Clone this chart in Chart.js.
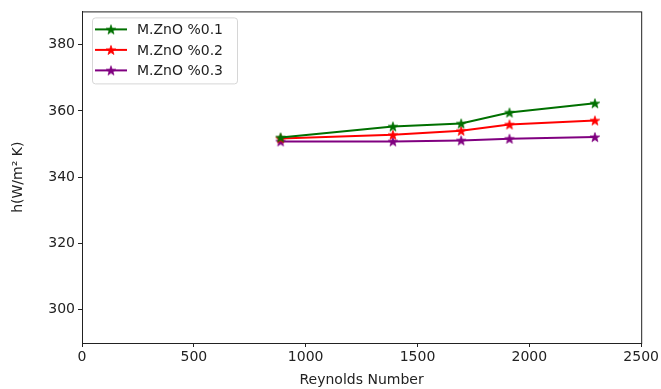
<!DOCTYPE html>
<html>
<head>
<meta charset="utf-8">
<script src="https://cdn.jsdelivr.net/npm/chart.js@4/dist/chart.umd.min.js"></script>
<style>
  html, body { margin: 0; padding: 0; background: #fff; }
  #wrap { width: 661px; height: 389px; }
</style>
</head>
<body>
<div id="wrap"><canvas id="c"></canvas></div>
<script>
// Reynolds number vs heat transfer coefficient, three ZnO concentrations.
var reynolds = [888, 1390, 1695, 1911, 2293];
var zno01 = [352.0, 355.3, 356.2, 359.5, 362.3];
var zno02 = [351.7, 352.8, 354.0, 355.9, 357.1];
var zno03 = [350.8, 350.8, 351.1, 351.6, 352.1];
var xTicks = [0, 500, 1000, 1500, 2000, 2500];
var yTicks = [300, 320, 340, 360, 380];

var FONT = "'DejaVu Sans', sans-serif";

// matplotlib-style filled five-point star marker
function starMarker(color) {
  var s = 14, c = document.createElement("canvas");
  c.width = s; c.height = s;
  var g = c.getContext("2d"), r = 5, ri = r * 0.4;
  g.beginPath();
  for (var i = 0; i < 10; i++) {
    var a = -Math.PI / 2 + i * Math.PI / 5, rr = i % 2 ? ri : r;
    g.lineTo(s / 2 + rr * Math.cos(a), s / 2 + 0.5 + rr * Math.sin(a));
  }
  g.closePath();
  g.fillStyle = color; g.fill();
  g.lineWidth = 0.8; g.strokeStyle = color; g.stroke();
  return c;
}

function series(label, ys, color) {
  return {
    label: label,
    data: reynolds.map(function (x, i) { return { x: x, y: ys[i] }; }),
    borderColor: color, backgroundColor: color, borderWidth: 2,
    pointStyle: starMarker(color), pointRadius: 6, tension: 0
  };
}

// full box around the plot plus a matplotlib-ish legend in the top-left corner
var frame = {
  id: "frame",
  afterDraw: function (chart) {
    var ctx = chart.ctx, a = chart.chartArea;
    ctx.save();
    ctx.strokeStyle = "#222"; ctx.lineWidth = 1;
    ctx.strokeRect(a.left + 0.5, a.top + 0.5, a.right - a.left, a.bottom - a.top);

    var bx = a.left + 10, by = a.top + 6, bw = 145, bh = 66;
    ctx.beginPath();
    ctx.roundRect(bx + 0.5, by + 0.5, bw, bh, 3);
    ctx.fillStyle = "rgba(255,255,255,0.8)"; ctx.fill();
    ctx.strokeStyle = "#d6d6d6"; ctx.stroke();
    ctx.font = "14px " + FONT; ctx.textBaseline = "middle"; ctx.fillStyle = "#222";
    chart.data.datasets.forEach(function (ds, i) {
      var y = by + 12 + i * 20.5;
      ctx.strokeStyle = ds.borderColor; ctx.lineWidth = 2;
      ctx.beginPath(); ctx.moveTo(bx + 3, y); ctx.lineTo(bx + 35, y); ctx.stroke();
      ctx.drawImage(ds.pointStyle, bx + 19 - 7, y - 7);
      ctx.fillStyle = "#222";
      ctx.fillText(ds.label, bx + 45, y + 1);
    });
    ctx.restore();
  }
};

new Chart(document.getElementById("c"), {
  type: "line",
  data: {
    datasets: [
      series("M.ZnO %0.1", zno01, "#007000"),
      series("M.ZnO %0.2", zno02, "#ff0000"),
      series("M.ZnO %0.3", zno03, "#800080")
    ]
  },
  plugins: [frame],
  options: {
    responsive: true, maintainAspectRatio: false, animation: false,
    layout: { padding: { top: 11, right: 18, left: 0, bottom: 0 } },
    plugins: { legend: { display: false }, tooltip: { enabled: false } },
    scales: {
      x: {
        type: "linear", min: 0, max: 2500,
        afterBuildTicks: function (s) { s.ticks = xTicks.map(function (v) { return { value: v }; }); },
        afterFit: function (s) { s.height = 46; },
        grid: { drawOnChartArea: false, tickLength: 4, color: "#222" },
        border: { color: "#222" },
        ticks: { color: "#222", font: { family: FONT, size: 14 }, padding: 2, maxRotation: 0,
                 callback: function (v) { return String(v); } },
        title: { display: true, text: "Reynolds Number", color: "#222", font: { family: FONT, size: 14 }, padding: { top: 0, bottom: 0 } }
      },
      y: {
        min: 290, max: 390,
        afterBuildTicks: function (s) { s.ticks = yTicks.map(function (v) { return { value: v }; }); },
        afterFit: function (s) { s.width = 82; },
        grid: { drawOnChartArea: false, tickLength: 4, color: "#222" },
        border: { color: "#222" },
        ticks: { color: "#222", font: { family: FONT, size: 14 }, padding: 3,
                 callback: function (v) { return String(v); } },
        title: { display: true, text: "h(W/m\u00b2 K)", color: "#222", font: { family: FONT, size: 14 }, padding: { top: 10, bottom: 0 } }
      }
    }
  }
});
</script>
</body>
</html>
